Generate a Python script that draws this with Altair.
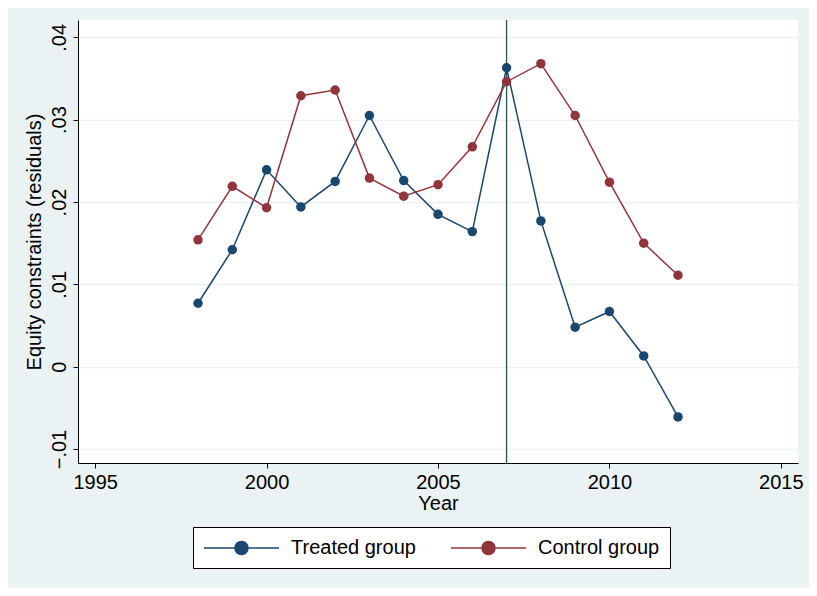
import altair as alt
import pandas as pd

years = list(range(1998, 2013))
treated = [.0077, .0142, .0239, .0194, .0225, .0305, .0226, .0185, .0164, .0363, .0177, .0048, .0067, .0013, -.0061]
control = [.0154, .0219, .0193, .0329, .0336, .0229, .0207, .0221, .0267, .0346, .0368, .0305, .0224, .0150, .0111]
groups = ["Treated group", "Control group"]
colors = ["#1a476f", "#90353b"]
event_year = [2007]

df = pd.DataFrame({
    "Year": years * 2,
    "value": treated + control,
    "group": [groups[0]] * len(years) + [groups[1]] * len(years),
})

FS = 20
x = alt.X("Year:Q", scale=alt.Scale(domain=[1994.5, 2015.5], nice=False, zero=False),
          axis=alt.Axis(values=[1995, 2000, 2005, 2010, 2015], format="d", grid=False,
                        title="Year", titleFontSize=FS, titleFontWeight="normal", labelFontSize=FS,
                        labelPadding=4, titlePadding=1, domainColor="black", tickColor="black",
                        labelColor="black", titleColor="black"))
y = alt.Y("value:Q", scale=alt.Scale(domain=[-0.0117, 0.0421], nice=False, zero=False),
          axis=alt.Axis(values=[-0.01, 0, 0.01, 0.02, 0.03, 0.04], grid=True, gridColor="#EAF2F3", gridWidth=1.5,
                        labelExpr="datum.value == 0 ? '0' : replace(format(datum.value, '.2f'), '0.', '.')",
                        labelAngle=270, labelAlign="center", labelBaseline="bottom", labelPadding=4,
                        title="Equity constraints (residuals)", titleFontSize=FS, titleFontWeight="normal",
                        labelFontSize=FS, titlePadding=5, domainColor="black", tickColor="black",
                        labelColor="black", titleColor="black"))
color = alt.Color("group:N", scale=alt.Scale(domain=groups, range=colors),
                  legend=alt.Legend(title=None, orient="none", legendX=115, legendY=507, direction="horizontal",
                                    columns=2, labelFontSize=FS, labelColor="black", strokeColor="black",
                                    fillColor="white", padding=10, columnPadding=32,
                                    symbolType="M-1,0H6.5M3.4,0A0.65,0.65 0 1 1 2.1,0A0.65,0.65 0 1 1 3.4,0Z",
                                    symbolSize=400, symbolStrokeWidth=1.5, labelOffset=66))

base = alt.Chart(df)
lines = base.mark_line(strokeWidth=1.5).encode(x=x, y=y, color=color)
pts = base.mark_point(filled=True, size=90, opacity=1).encode(x=x, y=y, color=color)
vline = alt.Chart(pd.DataFrame({"Year": event_year})).mark_rule(color="#1f5c4f", strokeWidth=1.3).encode(x="Year:Q")

chart = alt.layer(vline, lines, pts).properties(
    width=720, height=443,
    autosize=alt.AutoSizeParams(type="none"),
    padding={"left": 70, "top": 12, "right": 11, "bottom": 125},
    background="#EAF2F3",
    view=alt.ViewBackground(fill="white", stroke=None),
).configure(font="Liberation Sans")

chart.save("out.html", embed_options={"renderer": "svg", "actions": False})
